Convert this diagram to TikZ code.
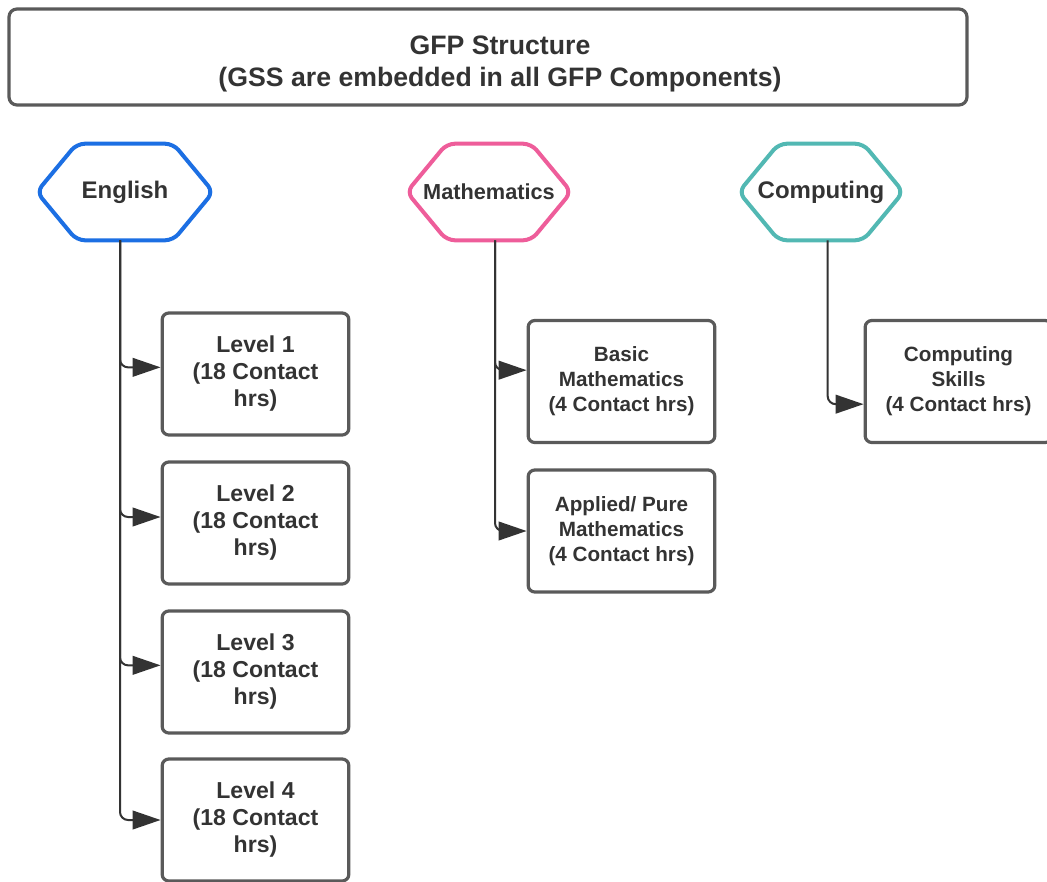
\documentclass[tikz,border=0pt]{standalone}
\usepackage{fontspec}
\setmainfont{Liberation Sans}
\usetikzlibrary{arrows.meta}

\definecolor{engblue}{HTML}{1C6FE3}
\definecolor{mathpink}{HTML}{EE5D9A}
\definecolor{compteal}{HTML}{52B8B3}
\definecolor{boxgray}{HTML}{5A5A5A}
\definecolor{txtgray}{HTML}{333333}

\begin{document}
\begin{tikzpicture}[
        x=0.75pt, y=-0.75pt,
        every node/.style={text=txtgray, font=\bfseries},
        topic/.style={minimum height=72pt, inner sep=0pt,
            font=\bfseries\fontsize{18pt}{21pt}\selectfont},
        course/.style={draw=boxgray, line width=2.4pt, rounded corners=5pt,
            minimum width=140pt, minimum height=91.5pt, align=center,
            font=\bfseries\fontsize{17.3pt}{20.25pt}\selectfont},
        mcourse/.style={course, font=\bfseries\fontsize{15.5pt}{18.75pt}\selectfont},
        link/.style={draw=txtgray, line width=1.5pt, rounded corners=6pt,
            -{Triangle[length=21pt, width=14pt]}}
    ]
        \useasboundingbox (0,0) rectangle (1047,882);

        % title
        \draw[boxgray, line width=2.4pt, rounded corners=6pt] (9,9) rectangle (967,105);
        \node[align=center, font=\bfseries\fontsize{20pt}{24pt}\selectfont]
            (title) at (500,64) {GFP Structure\\(GSS are embedded in all GFP Components)};

        % components
        \node[topic, minimum width=132pt] (eng) at (125,192) {English};
        \node[topic, minimum width=123pt,
            font=\bfseries\fontsize{16.3pt}{19pt}\selectfont] (math) at (489,192) {Mathematics};
        \node[topic, minimum width=123pt] (comp) at (821,192) {Computing};
        \foreach \n/\c in {eng/engblue, math/mathpink, comp/compteal}
            \draw[\c, line width=3pt, rounded corners=6pt]
                (\n.west) -- ([xshift=30pt]\n.north west) -- ([xshift=-30pt]\n.north east)
                -- (\n.east) -- ([xshift=-30pt]\n.south east) -- ([xshift=30pt]\n.south west)
                -- cycle;

        % english levels
        \node[course] (lvl1) at (255.5,374) {Level 1\\(18 Contact\\hrs)};
        \node[course] (lvl2) at (255.5,523) {Level 2\\(18 Contact\\hrs)};
        \node[course] (lvl3) at (255.5,672) {Level 3\\(18 Contact\\hrs)};
        \node[course] (lvl4) at (255.5,820) {Level 4\\(18 Contact\\hrs)};

        % maths and computing courses
        \node[mcourse] (basic) at (621.5,381.5) {Basic\\Mathematics\\(4 Contact hrs)};
        \node[mcourse] (applied) at (621.5,531) {Applied/ Pure\\Mathematics\\(4 Contact hrs)};
        \node[mcourse] (skills) at (958.5,381.5) {Computing\\Skills\\(4 Contact hrs)};

        \draw[link] ([xshift=-3.75pt]eng.south) |- ([yshift=5pt]lvl1.west);
        \draw[link] ([xshift=-3.75pt]eng.south) |- ([yshift=4.5pt]lvl2.west);
        \draw[link] ([xshift=-3.75pt]eng.south) |- ([yshift=5pt]lvl3.west);
        \draw[link] ([xshift=-3.75pt]eng.south) |- (lvl4.west);

        \draw[link] ([xshift=4.5pt]math.south) |- ([yshift=8.5pt]basic.west);
        \draw[link] ([xshift=4.5pt]math.south) |- (applied.west);

        \draw[link] ([xshift=5pt]comp.south) |- ([yshift=-17pt]skills.west);
    \end{tikzpicture}
\end{document}
